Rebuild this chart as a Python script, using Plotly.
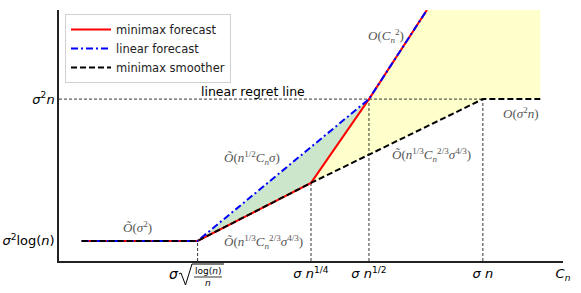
import plotly.graph_objects as go

# ---- data (schematic units) ----
x_start, x_kink, x_quarter, x_half, x_n, x_end = 0.45, 2.75, 5.0, 6.15, 8.41, 9.55
y_low, y_quarter, y_lin, y_top = 0.8, 3.11, 6.45, 10.0
x_top = 7.3

minimax_x = [x_start, x_kink, x_quarter, x_half, x_top]
minimax_y = [y_low, y_low, y_quarter, y_lin, y_top]
linear_x = [x_start, x_kink, x_half, x_top]
linear_y = [y_low, y_low, y_lin, y_top]
smoother_x = [x_start, x_kink, x_quarter, x_n, x_end]
smoother_y = [y_low, y_low, y_quarter, y_lin, y_lin]

green_x = [x_kink, x_half, x_quarter, x_kink]
green_y = [y_low, y_lin, y_quarter, y_low]
yellow_x = [x_quarter, x_half, x_top, x_end, x_end, x_n, x_quarter]
yellow_y = [y_quarter, y_lin, y_top, y_top, y_lin, y_lin, y_quarter]

xtick_vals = [x_quarter, x_half, x_n, 10.0]
xtick_text = ["<i>σ</i> <i>n</i><sup>1/4</sup>", "<i>σ</i> <i>n</i><sup>1/2</sup>",
              "<i>σ</i> <i>n</i>", "<i>C</i><sub><i>n</i></sub>"]
ytick_vals = [y_low, y_lin]
ytick_text = ["<i>σ</i><sup>2</sup>log(<i>n</i>)", "<i>σ</i><sup>2</sup><i>n</i>"]

W, H = 581, 293
PL, PR, PT, PB = 59, 563, 10, 261          # plot area in window pixels
ML, MR, MT, MB = PL, W - PR, PT, H - PB
PW, PH = PR - PL, PB - PT


def px(xp):
    return (xp - PL) / PW


def py(yp):
    return (PB - yp) / PH


fig = go.Figure()
fig.add_trace(go.Scatter(x=yellow_x, y=yellow_y, fill="toself", mode="lines",
                         fillcolor="rgba(255,255,0,0.2)", line=dict(width=0),
                         showlegend=False, hoverinfo="skip"))
fig.add_trace(go.Scatter(x=green_x, y=green_y, fill="toself", mode="lines",
                         fillcolor="rgba(0,128,0,0.2)", line=dict(width=0),
                         showlegend=False, hoverinfo="skip"))

ref_dash = dict(color="black", width=0.8, dash="3px,2px")
for xv, yv in [(x_kink, y_low), (x_quarter, y_quarter), (x_half, y_lin), (x_n, y_lin)]:
    fig.add_trace(go.Scatter(x=[xv, xv], y=[0, yv], mode="lines", line=ref_dash,
                             showlegend=False, hoverinfo="skip"))
fig.add_trace(go.Scatter(x=[0, x_n], y=[y_lin, y_lin], mode="lines", line=ref_dash,
                         showlegend=False, hoverinfo="skip"))

fig.add_trace(go.Scatter(x=minimax_x, y=minimax_y, mode="lines", name="minimax forecast",
                         line=dict(color="red", width=2)))
fig.add_trace(go.Scatter(x=linear_x, y=linear_y, mode="lines", name="linear forecast",
                         line=dict(color="blue", width=2, dash="7px,3px,2px,3px")))
fig.add_trace(go.Scatter(x=smoother_x, y=smoother_y, mode="lines", name="minimax smoother",
                         line=dict(color="black", width=2, dash="6px,3px")))

serif = dict(family="Liberation Serif", size=13, color="#555555")
ann = [
    dict(x=px(137) * 10, y=py(227) * 10, text="<i>Õ</i>(<i>σ</i><sup>2</sup>)", xanchor="center"),
    dict(x=px(222) * 10, y=py(242) * 10, text="<i>Õ</i>(<i>n</i><sup>1/3</sup><i>C</i><sub><i>n</i></sub><sup>2/3</sup><i>σ</i><sup>4/3</sup>)", xanchor="left"),
    dict(x=px(252) * 10, y=py(158) * 10, text="<i>Õ</i>(<i>n</i><sup>1/2</sup><i>C</i><sub><i>n</i></sub><i>σ</i>)", xanchor="center"),
    dict(x=px(390) * 10, y=py(155) * 10, text="<i>Õ</i>(<i>n</i><sup>1/3</sup><i>C</i><sub><i>n</i></sub><sup>2/3</sup><i>σ</i><sup>4/3</sup>)", xanchor="left"),
    dict(x=px(386) * 10, y=py(36) * 10, text="<i>O</i>(<i>C</i><sub><i>n</i></sub><sup>2</sup>)", xanchor="center"),
    dict(x=px(521) * 10, y=py(113) * 10, text="<i>O</i>(<i>σ</i><sup>2</sup><i>n</i>)", xanchor="center"),
]
for a in ann:
    fig.add_annotation(x=a["x"], y=a["y"], text=a["text"], xanchor=a["xanchor"],
                       yanchor="middle", showarrow=False, font=serif)

fig.add_annotation(x=px(253) * 10, y=py(91) * 10, text="linear regret line", showarrow=False,
                   xanchor="center", yanchor="middle",
                   font=dict(family="DejaVu Sans", size=12.5, color="black"))

# sigma * sqrt(log(n)/n) tick label at the kink
small = dict(family="DejaVu Sans", size=9, color="black")
fig.add_annotation(xref="paper", yref="paper", x=px(174), y=py(274), text="<i>σ</i>",
                   xanchor="center", yanchor="middle", showarrow=False,
                   font=dict(family="DejaVu Sans", size=14, color="black"))
fig.add_annotation(xref="paper", yref="paper", x=px(208), y=py(270.5), text="log(<i>n</i>)",
                   xanchor="center", yanchor="middle", showarrow=False, font=small)
fig.add_annotation(xref="paper", yref="paper", x=px(208), y=py(283), text="<i>n</i>",
                   xanchor="center", yanchor="middle", showarrow=False, font=small)
rad = "M {} {} L {} {} L {} {} L {} {} L {} {}".format(
    px(179), py(274), px(181), py(273), px(185.5), py(285), px(192), py(264), px(224), py(264))
fig.add_shape(type="path", xref="paper", yref="paper", path=rad,
              line=dict(color="black", width=1))
fig.add_shape(type="line", xref="paper", yref="paper", x0=px(194), x1=px(222),
              y0=py(277), y1=py(277), line=dict(color="black", width=0.8))

fig.update_layout(
    width=W, height=H, margin=dict(l=ML, r=MR, t=MT, b=MB, autoexpand=False),
    paper_bgcolor="white", plot_bgcolor="white",
    font=dict(family="DejaVu Sans", size=13, color="black"),
    legend=dict(x=px(65), y=py(14), xanchor="left", yanchor="top",
                bgcolor="rgba(255,255,255,0.8)", bordercolor="#d0d0d0", borderwidth=1,
                font=dict(family="DejaVu Sans", size=11.5, color="#222"),
                tracegroupgap=0, itemwidth=40),
    showlegend=True,
)
fig.update_xaxes(range=[0, 10], showgrid=False, zeroline=False, showline=True,
                 linecolor="#222", linewidth=1.5, ticks="", tickvals=xtick_vals,
                 ticktext=xtick_text, ticklabelstandoff=0, automargin=False,
                 tickfont=dict(family="DejaVu Sans", size=13, color="black"))
fig.update_yaxes(range=[0, 10], showgrid=False, zeroline=False, showline=True,
                 linecolor="#222", linewidth=1.5, ticks="", tickvals=ytick_vals,
                 ticktext=ytick_text, ticklabelstandoff=0, automargin=False,
                 tickfont=dict(family="DejaVu Sans", size=13, color="black"))

fig.write_html("out.html", config={"displayModeBar": False},
               post_script="document.body.style.margin='0';")
